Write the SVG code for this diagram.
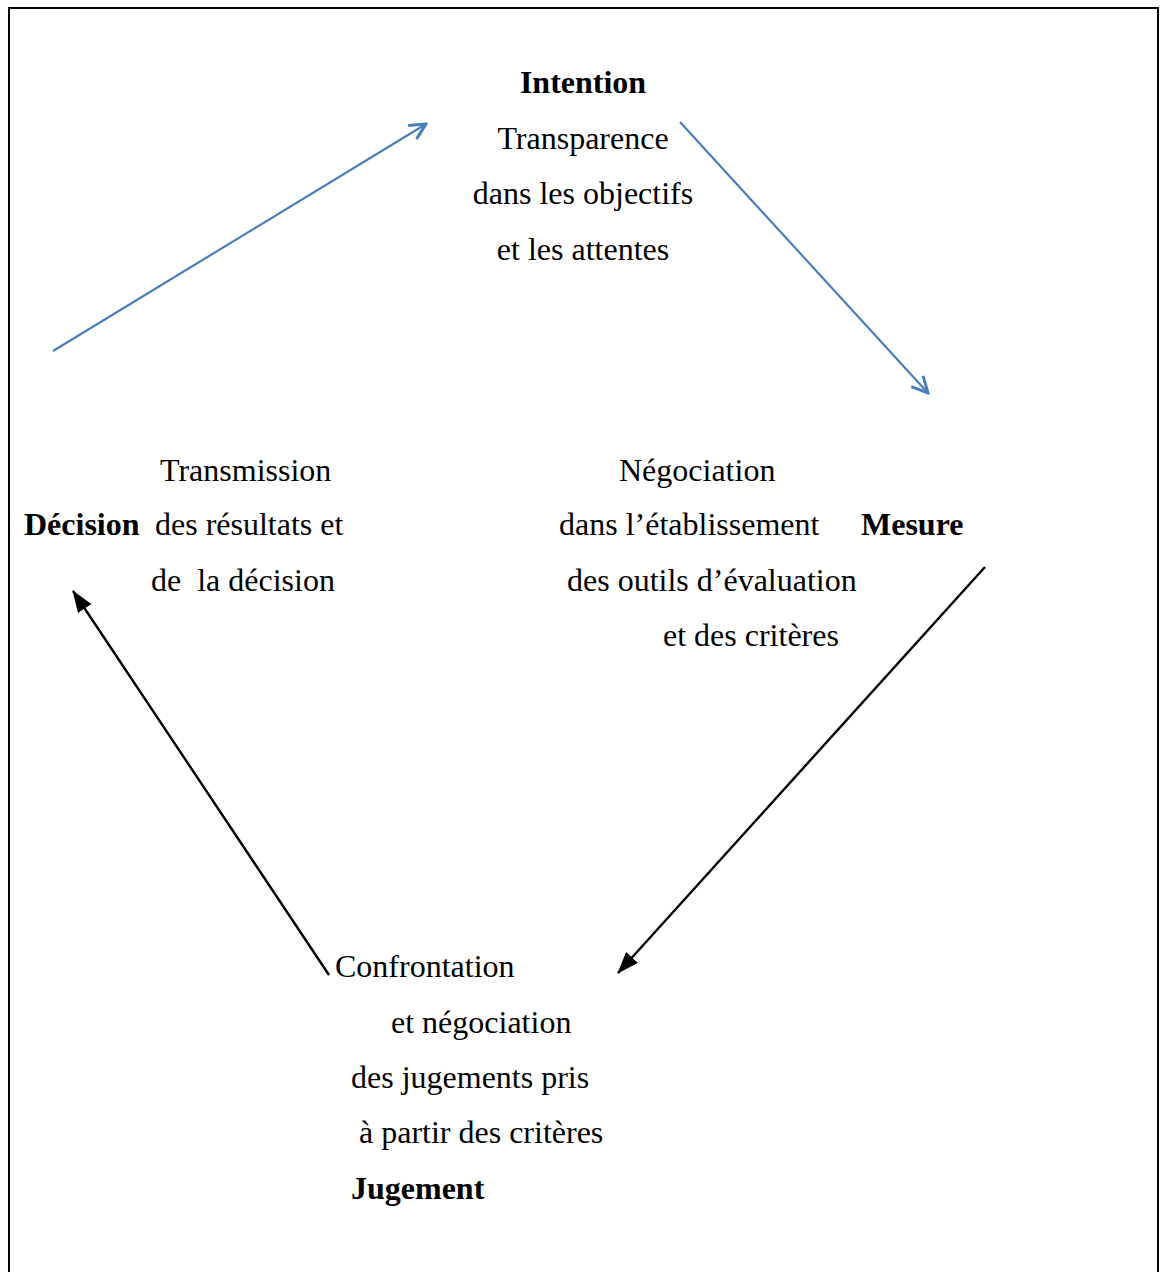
<svg xmlns="http://www.w3.org/2000/svg" width="1163" height="1272" viewBox="0 0 1163 1272">
<style>
text{font-family:"Liberation Serif","Times New Roman",serif;font-size:32px;fill:#000;white-space:pre}
.b{font-weight:bold}
.c{text-anchor:middle}
.blue{stroke:#4a7ebb;stroke-width:2.2;fill:none}
.blk{stroke:#000;stroke-width:2.4;fill:none}
</style>
<defs>
<marker id="openBlue" markerUnits="userSpaceOnUse" viewBox="0 0 20 20" refX="18" refY="10" markerWidth="20" markerHeight="20" orient="auto">
<path d="M2,2 L18,10 L2,18" fill="none" stroke="#4a7ebb" stroke-width="3" stroke-linejoin="miter"/>
</marker>
<marker id="solidBlack" markerUnits="userSpaceOnUse" viewBox="0 0 22 18" refX="21" refY="9" markerWidth="22" markerHeight="18" orient="auto">
<path d="M0,1 L22,9 L0,17 Z" fill="#000"/>
</marker>
</defs>
<rect x="0" y="0" width="1163" height="1272" fill="#fff"/>
<path d="M9,1272 V8 H1158 V1272" fill="none" stroke="#000" stroke-width="2"/>
<g id="connectors">
<line class="blue" x1="53" y1="351" x2="426" y2="124" marker-end="url(#openBlue)"/>
<line class="blue" x1="680" y1="122" x2="928" y2="393" marker-end="url(#openBlue)"/>
<line class="blk" x1="985" y1="567" x2="618" y2="973" marker-end="url(#solidBlack)"/>
<line class="blk" x1="329" y1="975" x2="73" y2="591" marker-end="url(#solidBlack)"/>
</g>
<g id="intention">
<text class="b c" x="583" y="93">Intention</text>
<text class="c" x="583" y="149">Transparence</text>
<text class="c" x="583" y="204">dans les objectifs</text>
<text class="c" x="583" y="260">et les attentes</text>
</g>
<g id="mesure">
<text x="619" y="481">Négociation</text>
<text x="559" y="535">dans l’établissement</text>
<text class="b" x="861" y="535">Mesure</text>
<text x="567" y="591">des outils d’évaluation</text>
<text x="663" y="646">et des critères</text>
</g>
<g id="jugement">
<text x="335" y="977">Confrontation</text>
<text x="391" y="1033">et négociation</text>
<text x="351" y="1088">des jugements pris</text>
<text x="359" y="1143">à partir des critères</text>
<text class="b" x="351" y="1199">Jugement</text>
</g>
<g id="decision">
<text x="160" y="481">Transmission</text>
<text class="b" x="24" y="535">Décision</text>
<text x="155" y="535">des résultats et</text>
<text x="151" y="591">de  la décision</text>
</g>
</svg>
